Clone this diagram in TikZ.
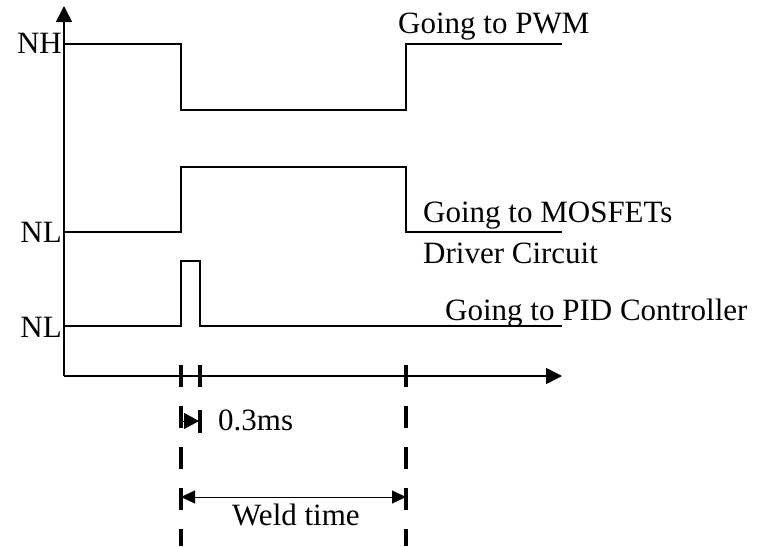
\documentclass[tikz,border=0pt]{standalone}
\usepackage{fontspec}
\setmainfont{Liberation Serif}
\usetikzlibrary{arrows.meta}

\begin{document}
\begin{tikzpicture}[x=1pt,y=-1pt,
		wave/.style={line width=1.5pt},
		marker/.style={line width=3.5pt,dash pattern=on 22pt off 19pt},
		lbl/.style={anchor=base west,inner sep=0pt,font=\fontsize{31}{36}\selectfont},
		lvl/.style={anchor=base east,inner sep=0pt,font=\fontsize{31}{36}\selectfont}]
	\useasboundingbox (0,0) rectangle (760,546);
	% axes
		\coordinate (O) at (64,376);
		\coordinate (ytop) at (64,6);
		\coordinate (xend) at (562,376);
		\draw[wave,-{Triangle[length=16pt,width=16pt]}] (O) -- (ytop);
		\draw[wave,-{Triangle[length=16pt,width=16pt]}] (O) -- (xend);
	% levels
		\node[lvl] (nh) at (62,53) {NH};
		\node[lvl] (nl1) at (62,242) {NL};
		\node[lvl] (nl2) at (62,337) {NL};
	% signals
		\draw[wave] (64,44) -| (181,110) -| (406,44) -- (562,44);
		\draw[wave] (64,232) -| (181,167) -| (406,232) -- (562,232);
		\draw[wave] (64,326) -| (181,261) -| (200,326) -- (562,326);
		\node[lbl] (pwm) at (398,33) {Going to PWM};
		\node[lbl] (mos) at (423,222) {Going to MOSFETs};
		\node[lbl] (drv) at (423,263) {Driver Circuit};
		\node[lbl] (pid) at (445,320) {Going to PID Controller};
	% timing marks
		\draw[marker] (181,365) -- (181,546);
		\draw[marker] (406,365) -- (406,546);
		\draw[marker] (200,365) -- (200,388);
		\draw[line width=3.5pt] (200,410) -- (200,433);
		\draw[line width=1pt,-{Triangle[length=15pt,width=16pt]}] (181,421) -- (199,421);
		\node[lbl] (pulse) at (218,430) {0.3ms};
		\draw[line width=1pt,{Triangle[length=14pt,width=13pt]}-{Triangle[length=14pt,width=13pt]}] (181,497) -- (406,497);
		\node[lbl] (weld) at (232,525) {Weld time};
\end{tikzpicture}
\end{document}
